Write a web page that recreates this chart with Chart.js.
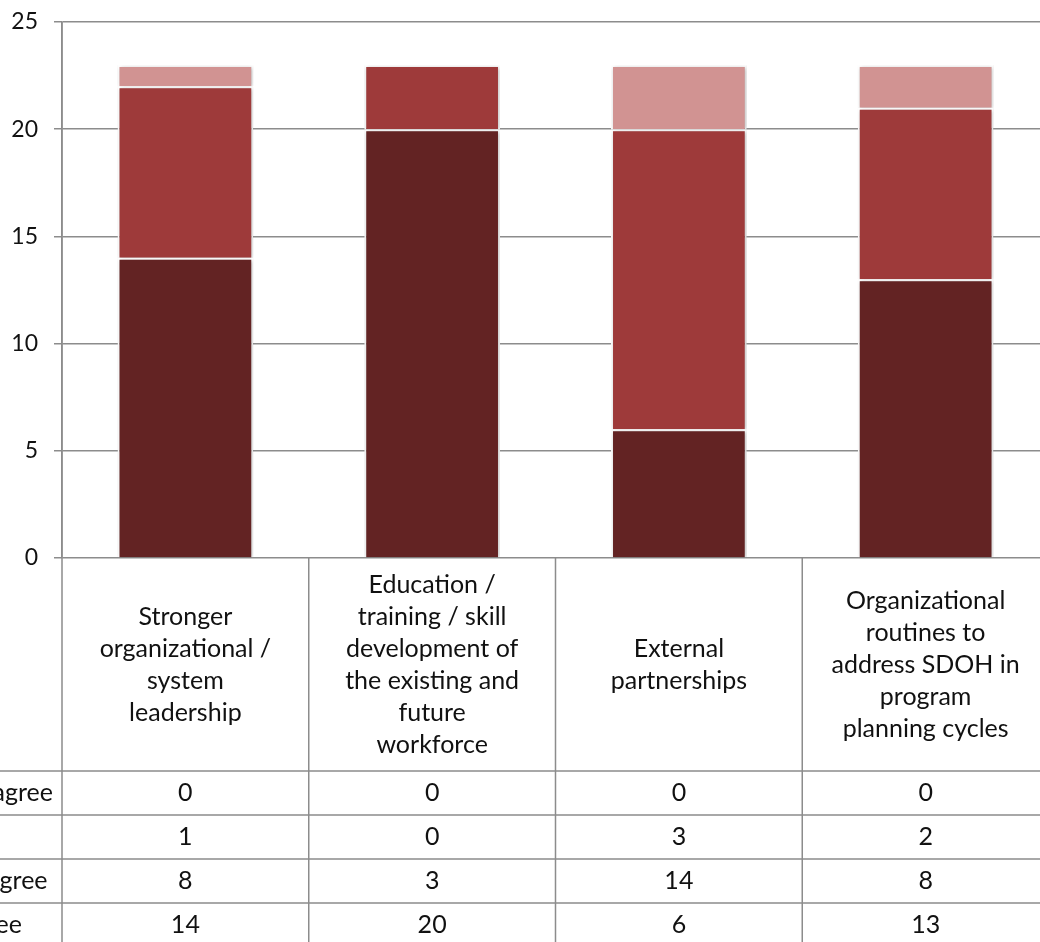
<!DOCTYPE html>
<html>
<head>
<meta charset="utf-8">
<title>SDOH capacity</title>
<script src="https://cdn.jsdelivr.net/npm/chart.js@4.4.0/dist/chart.umd.min.js"></script>
<style>
    html, body { margin: 0; padding: 0; background: #fff; }
    #wrap { position: relative; width: 1040px; height: 942px; overflow: hidden; }
    #chart { position: absolute; left: -160px; top: 0; }
</style>
</head>
<body>
<div id="wrap">
    <canvas id="chart" width="1220" height="960"></canvas>
</div>
<script>
// Categories (pre-wrapped the way the data table shows them)
const categories = [
    ['Stronger', 'organizational /', 'system', 'leadership'],
    ['Education /', 'training / skill', 'development of', 'the existing and', 'future', 'workforce'],
    ['External', 'partnerships'],
    ['Organizational', 'routines to', 'address SDOH in', 'program', 'planning cycles']
];

// Series, in data table order (top row first)
const seriesNames = ['Strongly Disagree', 'Neutral', 'Somewhat Agree', 'Strongly Agree'];
const stronglyDisagree = [0, 0, 0, 0];
const neutral = [1, 0, 3, 2];
const somewhatAgree = [8, 3, 14, 8];
const stronglyAgree = [14, 20, 6, 13];
const seriesColors = ['#E6C4C3', '#D19392', '#9E3A3A', '#632323'];

const yTicks = [0, 5, 10, 15, 20, 25];

const FONT = 'Lato, "Open Sans", sans-serif';
const TABLE_SIZE = 25;
const TICK_SIZE = 23;
const GRID = '#8c8c8c';

const seriesValues = [stronglyDisagree, neutral, somewhatAgree, stronglyAgree];

// Stack from bottom: last table row sits at the bottom of the column
const datasets = seriesNames.map((name, i) => ({
    label: name,
    data: seriesValues[i],
    backgroundColor: seriesColors[i],
    borderColor: '#ffffff',
    borderWidth: 2,
    categoryPercentage: 1,
    barPercentage: 0.55
})).reverse();

// Soft shadow around the columns
const shadowPlugin = {
    id: 'barShadow',
    beforeDatasetsDraw(chart) {
        const ctx = chart.ctx;
        ctx.save();
        ctx.shadowColor = 'rgba(0,0,0,0.28)';
        ctx.shadowBlur = 4;
        ctx.shadowOffsetX = 1;
        ctx.shadowOffsetY = 1;
    },
    afterDatasetsDraw(chart) {
        chart.ctx.restore();
    }
};

// Data table under the plot
const tablePlugin = {
    id: 'dataTable',
    afterDraw(chart) {
        const { ctx, chartArea, scales } = chart;
        const x = scales.x;
        const n = categories.length;
        const colW = chartArea.width / n;
        const labelTop = chartArea.bottom;
        const labelBottom = labelTop + 213;
        const rowH = 44;
        const tableBottom = labelBottom + rowH * seriesNames.length;
        const lineH = 32;

        ctx.save();
        ctx.font = `${TABLE_SIZE}px ${FONT}`;
        const headerW = Math.max(...seriesNames.map(s => ctx.measureText(s).width));
        const headerX = chartArea.left - 9 - headerW;

        // grid lines
        ctx.strokeStyle = GRID;
        ctx.lineWidth = 1.5;
        ctx.beginPath();
        for (let i = 0; i <= n; i++) {
            const vx = chartArea.left + i * colW;
            ctx.moveTo(vx, i === 0 ? chartArea.top : labelTop);
            ctx.lineTo(vx, tableBottom);
        }
        for (let r = 0; r <= seriesNames.length; r++) {
            const hy = labelBottom + r * rowH;
            ctx.moveTo(0, hy);
            ctx.lineTo(chartArea.right, hy);
        }
        ctx.stroke();

        // category labels
        ctx.fillStyle = '#111';
        ctx.textAlign = 'center';
        ctx.textBaseline = 'middle';
        const midY = (labelTop + labelBottom) / 2;
        categories.forEach((lines, i) => {
            const cx = x.getPixelForValue(i);
            const y0 = midY - (lines.length - 1) * lineH / 2;
            lines.forEach((t, k) => ctx.fillText(t, cx, y0 + k * lineH));
        });

        // rows
        seriesNames.forEach((name, r) => {
            const cy = labelBottom + r * rowH + rowH / 2;
            ctx.textAlign = 'left';
            ctx.fillText(name, headerX, cy);
            ctx.textAlign = 'center';
            seriesValues[r].forEach((v, i) => {
                ctx.fillText(String(v), x.getPixelForValue(i), cy);
            });
        });
        ctx.restore();
    }
};

new Chart(document.getElementById('chart'), {
    type: 'bar',
    data: {
        labels: categories.map(c => c.join(' ')),
        datasets: datasets
    },
    options: {
        responsive: false,
        animation: false,
        devicePixelRatio: 1,
        layout: {
            padding: { top: 22, right: 11, bottom: 402, left: 0 }
        },
        plugins: {
            legend: { display: false },
            tooltip: { enabled: false }
        },
        scales: {
            x: {
                stacked: true,
                display: false
            },
            y: {
                stacked: true,
                min: 0,
                max: 25,
                afterBuildTicks: (scale) => {
                    scale.ticks = yTicks.map(v => ({ value: v }));
                },
                afterFit: (scale) => {
                    scale.width = 222;
                    scale.paddingTop = 0;
                    scale.paddingBottom = 0;
                },
                ticks: {
                    font: { family: FONT, size: TICK_SIZE },
                    color: '#111',
                    padding: 16
                },
                grid: {
                    color: GRID,
                    lineWidth: 1.5,
                    tickLength: 8
                },
                border: {
                    color: GRID,
                    width: 1.5
                }
            }
        }
    },
    plugins: [shadowPlugin, tablePlugin]
});
</script>
</body>
</html>
